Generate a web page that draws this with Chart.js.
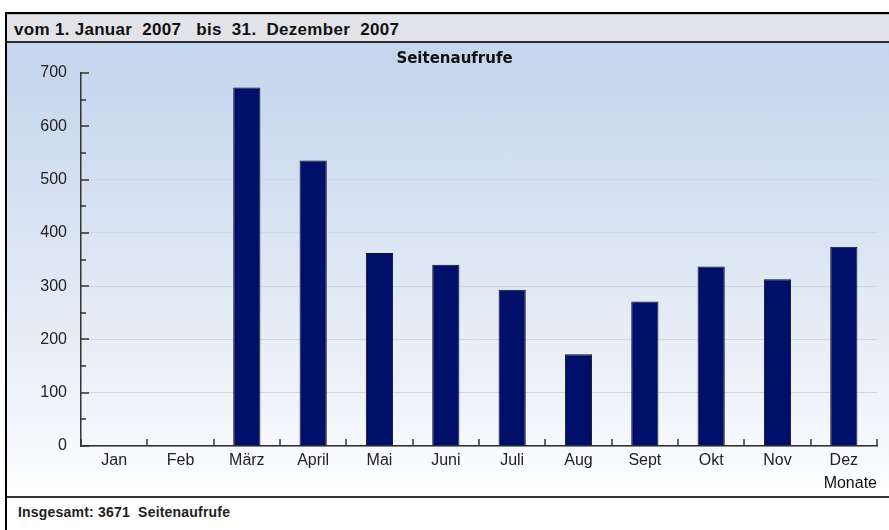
<!DOCTYPE html>
<html lang="de">
<head>
<meta charset="utf-8">
<title>Seitenaufrufe 2007</title>
<script src="https://cdn.jsdelivr.net/npm/chart.js@4/dist/chart.umd.min.js"></script>
<style>
  body { margin: 0; background: #fff; width: 889px; height: 530px; overflow: hidden; position: relative; }
  .abs { position: absolute; }
  #randOben { left: 5px; top: 12px; width: 884px; height: 2px; background: #000; }
  #randLinks { left: 5px; top: 12px; width: 2px; height: 518px; background: #000; }
  #kopf {
    left: 7px; top: 14px; width: 882px; height: 27px;
    background: #e2e3e8; border-top: 1px solid #b9bdc6;
    font: bold 17px "Liberation Sans", Arial, sans-serif; color: #111; letter-spacing: 0.3px;
    white-space: pre; line-height: 30px; padding-left: 7px; box-sizing: border-box;
  }
  #linie1 { left: 7px; top: 41px; width: 882px; height: 2px; background: #2b2b2b; }
  #plot {
    left: 7px; top: 43px; width: 882px; height: 453px;
    background: linear-gradient(to bottom, #c4d5ee 0%, #dbe5f3 45%, #f3f6fb 85%, #ffffff 100%);
  }
  #linie2 { left: 7px; top: 496px; width: 882px; height: 2px; background: #333; }
  #fuss {
    left: 18px; top: 504px;
    font: bold 14px "Liberation Sans", Arial, sans-serif; color: #222; white-space: pre; letter-spacing: 0.2px;
  }
</style>
</head>
<body>
<div class="abs" id="randOben"></div>
<div class="abs" id="randLinks"></div>
<div class="abs" id="kopf">vom 1. Januar  2007   bis  31.  Dezember  2007</div>
<div class="abs" id="linie1"></div>
<div class="abs" id="plot"><canvas id="myChart" width="882" height="453"></canvas></div>
<div class="abs" id="linie2"></div>
<div class="abs" id="fuss"></div>
<script>
// Daten
const monate = ['Jan', 'Feb', 'März', 'April', 'Mai', 'Juni', 'Juli', 'Aug', 'Sept', 'Okt', 'Nov', 'Dez'];
const seitenaufrufe = [0, 0, 673, 536, 362, 340, 293, 172, 271, 337, 313, 374];
const yMax = 700;
const ySchritt = 100;

// Summe unten
let summe = 0;
seitenaufrufe.forEach(v => { summe += v; });
document.getElementById('fuss').textContent = 'Insgesamt: ' + summe + '  Seitenaufrufe';

// kleine Striche nach innen, wie im Original
const innenStriche = {
  id: 'innenStriche',
  afterDatasetsDraw(chart) {
    const { ctx, chartArea, scales: { x, y } } = chart;
    ctx.save();
    ctx.strokeStyle = '#333';
    ctx.lineWidth = 1.5;
    ctx.beginPath();
    for (let v = 0; v <= yMax; v += ySchritt / 2) {
      const py = Math.round(y.getPixelForValue(v));
      const len = v % ySchritt === 0 ? 8 : 5;
      ctx.moveTo(chartArea.left, py);
      ctx.lineTo(chartArea.left + len, py);
    }
    for (let i = 0; i <= monate.length; i++) {
      const px = Math.round(x.getPixelForValue(i - 0.5));
      ctx.moveTo(px, chartArea.bottom);
      ctx.lineTo(px, chartArea.bottom - 7);
    }
    ctx.stroke();
    ctx.restore();
  }
};

const schrift = { family: "'Liberation Sans', Arial, sans-serif", size: 16 };

new Chart(document.getElementById('myChart'), {
  type: 'bar',
  data: {
    labels: monate,
    datasets: [{
      label: 'Seitenaufrufe',
      data: seitenaufrufe,
      backgroundColor: '#000f6a',
      borderColor: '#111',
      borderWidth: 1,
      borderSkipped: 'start',
      categoryPercentage: 1,
      barPercentage: 0.41
    }]
  },
  options: {
    responsive: false,
    devicePixelRatio: 1,
    animation: false,
    layout: { padding: { left: 25, right: 12, top: 0, bottom: 0 } },
    plugins: {
      legend: { display: false },
      tooltip: { enabled: false },
      title: {
        display: true,
        text: 'Seitenaufrufe',
        color: '#111',
        font: { family: "'DejaVu Sans', sans-serif", size: 15, weight: 'bold' },
        padding: { top: 7, bottom: 5 }
      }
    },
    scales: {
      x: {
        grid: { display: false, drawTicks: false },
        border: { display: true, color: '#333', width: 1.5 },
        ticks: { color: '#222', font: schrift, padding: 5, maxRotation: 0, autoSkip: false },
        title: {
          display: true,
          text: 'Monate',
          align: 'end',
          color: '#111',
          font: schrift,
          padding: { top: 2, bottom: 3 }
        },
        afterFit(scale) { scale.height = 50; }
      },
      y: {
        min: 0,
        max: yMax,
        grid: { color: '#d2d6dd', lineWidth: 1, drawTicks: false },
        border: { display: true, color: '#333', width: 1.5 },
        ticks: { stepSize: ySchritt, color: '#222', font: schrift, padding: 14 },
        afterFit(scale) { scale.width = 49; }
      }
    }
  },
  plugins: [innenStriche]
});
</script>
</body>
</html>
